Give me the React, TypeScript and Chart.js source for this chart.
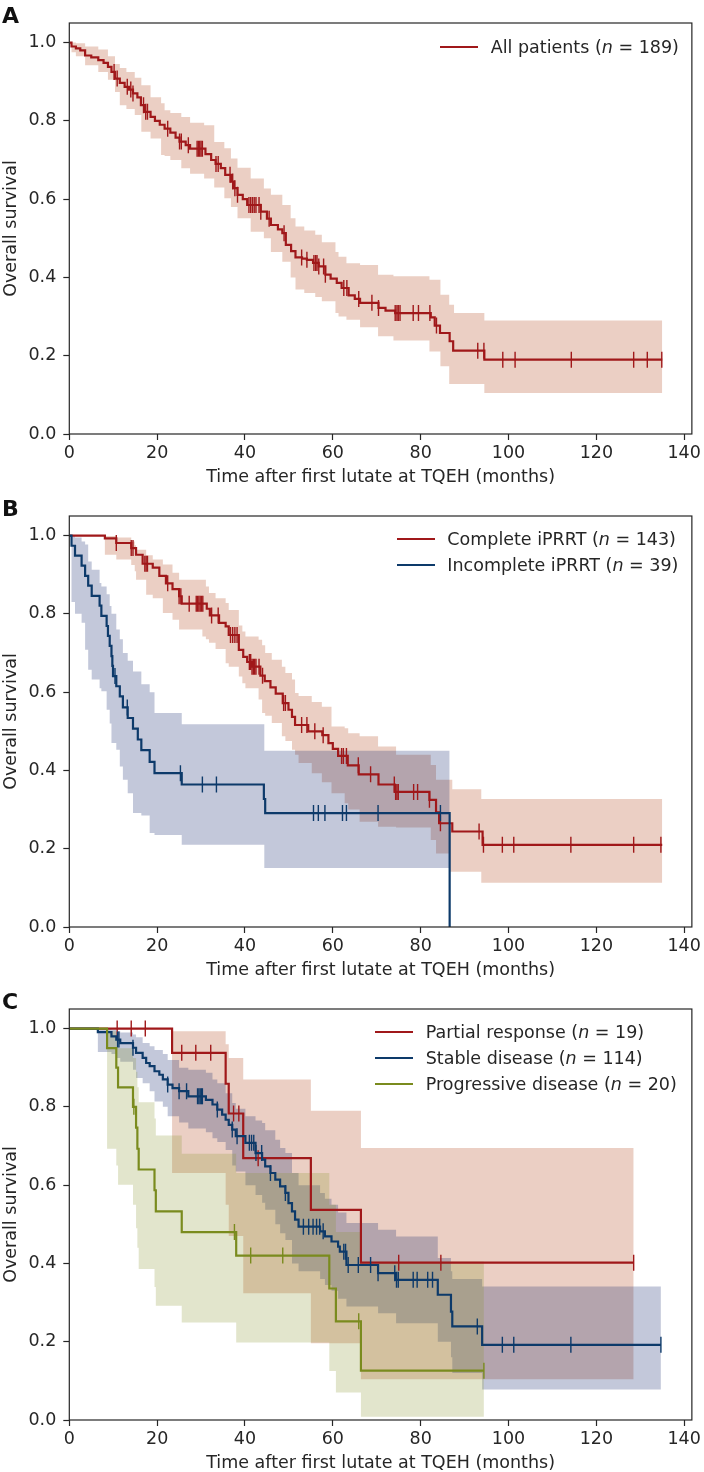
import React, { useEffect, useRef } from "react";
import { Chart, registerables } from "chart.js";

Chart.register(...registerables);

const FONT = "'DejaVu Sans', 'Liberation Sans', sans-serif";
const INK = "#262626";

// Axis ticks
const X_TICKS = [0, 20, 40, 60, 80, 100, 120, 140];
const Y_TICKS = [0, 0.2, 0.4, 0.6, 0.8, 1.0];
const X_MAX = 141.75;
const Y_MAX = 1.05;

// Series names and group sizes
const GROUP_LABELS = ["All patients", "Complete iPRRT", "Incomplete iPRRT", "Partial response", "Stable disease", "Progressive disease"];
const GROUP_SIZES = [189, 143, 39, 19, 114, 20];

// ---- Panel A: all patients ----
const allTimes = [0, 0.5, 1.5, 2.5, 3.6, 5.0, 6.6, 7.8, 8.8, 9.6, 10.4, 11.5, 12.6, 13.6, 14.5, 15.5, 16.3, 17.1, 18.5, 19.5, 20.6, 21.7, 23.0, 24.2, 25.1, 26.5, 27.5, 31.0, 32.3, 33.3, 34.5, 35.5, 36.8, 37.5, 38.3, 39.5, 40.5, 43.6, 45.0, 45.9, 47.5, 48.5, 49.3, 50.5, 51.5, 53.0, 54.1, 55.5, 56.8, 58.3, 59.5, 60.9, 62.0, 63.6, 65.0, 66.2, 70.4, 72.0, 74.2, 82.3, 83.2, 84.4, 86.6, 87.4, 94.5, 135];
const allSurv = [1, 0.99, 0.985, 0.98, 0.967, 0.962, 0.955, 0.948, 0.938, 0.925, 0.908, 0.897, 0.887, 0.88, 0.87, 0.86, 0.84, 0.823, 0.81, 0.8, 0.79, 0.78, 0.77, 0.757, 0.747, 0.738, 0.729, 0.715, 0.7, 0.69, 0.679, 0.662, 0.645, 0.628, 0.611, 0.6, 0.585, 0.568, 0.55, 0.534, 0.523, 0.513, 0.483, 0.467, 0.451, 0.448, 0.445, 0.437, 0.428, 0.407, 0.397, 0.386, 0.373, 0.354, 0.345, 0.335, 0.322, 0.315, 0.309, 0.298, 0.277, 0.258, 0.237, 0.213, 0.19, 0.19];
const allCensored = [10.2, 10.9, 13.2, 14.0, 14.5, 16.9, 17.4, 17.8, 22.4, 25.1, 25.5, 27.1, 29.1, 29.4, 29.7, 30.0, 30.3, 33.4, 33.9, 36.6, 37.2, 37.7, 38.3, 40.9, 41.3, 41.7, 42.1, 42.5, 43.2, 43.6, 45.5, 48.9, 52.9, 54.1, 55.7, 56.1, 56.4, 56.8, 57.9, 58.3, 62.5, 63.2, 65.9, 68.9, 70.4, 74.2, 74.6, 74.9, 75.3, 78.3, 79.5, 82.1, 83.6, 93.0, 94.4, 98.7, 101.5, 114.3, 128.5, 131.6, 134.9];
const allCiTimes = [0, 0.5, 1.5, 3.6, 6.6, 8.8, 10.4, 11.5, 13, 14.9, 16.4, 18.5, 20.9, 21.7, 23, 25.5, 27.5, 30.7, 33, 35.3, 36.8, 38.3, 41.3, 44.3, 45.9, 48.5, 50.4, 51.5, 53.5, 56, 57.5, 60.6, 61.3, 63.1, 66.2, 70.3, 73.8, 82, 84.5, 86.5, 87.6, 94.5, 135];
const allCiLower = [1, 0.975, 0.965, 0.942, 0.925, 0.905, 0.874, 0.84, 0.83, 0.815, 0.772, 0.755, 0.713, 0.71, 0.7, 0.679, 0.665, 0.653, 0.63, 0.602, 0.58, 0.551, 0.517, 0.5, 0.465, 0.44, 0.4, 0.369, 0.36, 0.35, 0.339, 0.309, 0.3, 0.292, 0.273, 0.25, 0.239, 0.211, 0.173, 0.128, 0.128, 0.105, 0.105];
const allCiUpper = [1, 1, 0.998, 0.99, 0.982, 0.965, 0.945, 0.935, 0.925, 0.91, 0.891, 0.86, 0.845, 0.827, 0.82, 0.81, 0.795, 0.789, 0.746, 0.73, 0.704, 0.68, 0.653, 0.627, 0.611, 0.585, 0.551, 0.53, 0.52, 0.509, 0.49, 0.465, 0.453, 0.436, 0.432, 0.407, 0.403, 0.394, 0.356, 0.33, 0.309, 0.29, 0.29];

// ---- Panel B: complete iPRRT ----
const compTimes = [0, 8.1, 10.7, 14.1, 15.2, 16.7, 19.0, 20.5, 22.0, 23.5, 25.0, 25.6, 31.3, 32.0, 34.1, 35.6, 36.3, 38.6, 39.6, 40.5, 41.6, 43.5, 44.5, 45.8, 47.0, 48.6, 49.9, 50.7, 51.4, 54.4, 57.6, 59.0, 60.0, 61.2, 63.4, 65.9, 70.4, 74.1, 82.0, 83.5, 84.2, 87.2, 94.1, 135];
const compSurv = [1, 0.993, 0.981, 0.968, 0.951, 0.928, 0.918, 0.897, 0.878, 0.863, 0.845, 0.826, 0.813, 0.796, 0.777, 0.768, 0.746, 0.708, 0.69, 0.677, 0.665, 0.642, 0.628, 0.612, 0.596, 0.572, 0.555, 0.537, 0.516, 0.5, 0.49, 0.47, 0.455, 0.437, 0.413, 0.39, 0.364, 0.345, 0.325, 0.293, 0.265, 0.244, 0.21, 0.21];
const compCensored = [10.7, 14.1, 14.5, 17.2, 17.5, 17.8, 22.4, 25.0, 25.4, 27.3, 28.9, 29.2, 29.5, 29.8, 30.1, 30.4, 32.4, 33.9, 36.7, 37.2, 37.7, 38.2, 41.0, 41.3, 41.6, 41.9, 42.2, 42.5, 43.2, 44.0, 48.8, 49.2, 52.9, 54.1, 55.9, 57.8, 62.0, 62.4, 63.1, 65.8, 68.6, 74.0, 74.3, 74.6, 74.9, 78.4, 79.3, 82.0, 84.5, 93.3, 94.3, 98.6, 101.2, 114.2, 128.5, 134.7];
const compCiTimes = [0, 8.1, 10.7, 14.1, 14.9, 15.2, 17.5, 19, 21.3, 23.5, 25, 30.3, 31.1, 31.8, 33.3, 35.6, 36.3, 38.6, 39.4, 40.1, 43.1, 43.9, 44.6, 46.1, 48.4, 49.2, 50.7, 51.4, 52.2, 55.2, 57.5, 59.7, 62.7, 63.5, 66.1, 70.3, 74.4, 82.3, 83.5, 86.5, 87.2, 93.8, 135];
const compCiLower = [1, 0.951, 0.939, 0.925, 0.909, 0.887, 0.849, 0.84, 0.802, 0.785, 0.76, 0.742, 0.735, 0.726, 0.71, 0.674, 0.665, 0.64, 0.623, 0.61, 0.581, 0.547, 0.54, 0.521, 0.487, 0.475, 0.453, 0.44, 0.419, 0.393, 0.37, 0.342, 0.316, 0.3, 0.269, 0.256, 0.254, 0.222, 0.188, 0.141, 0.141, 0.113, 0.113];
const compCiUpper = [1, 0.999, 0.995, 0.985, 0.975, 0.964, 0.95, 0.939, 0.926, 0.905, 0.887, 0.887, 0.87, 0.853, 0.84, 0.828, 0.81, 0.77, 0.755, 0.742, 0.734, 0.72, 0.7, 0.683, 0.665, 0.649, 0.632, 0.598, 0.59, 0.575, 0.563, 0.512, 0.508, 0.495, 0.487, 0.461, 0.44, 0.414, 0.376, 0.376, 0.352, 0.327, 0.327];

// ---- Panel B: incomplete iPRRT ----
const incTimes = [0, 0.5, 1.3, 2.8, 3.6, 4.3, 5.1, 6.9, 7.3, 8.5, 8.8, 9.2, 9.6, 9.8, 9.95, 10.7, 11.5, 12.2, 13.3, 14.5, 15.6, 16.4, 18.3, 19.4, 25.6, 44.3, 44.6, 86.6];
const incSurv = [1, 0.974, 0.949, 0.923, 0.897, 0.872, 0.846, 0.821, 0.795, 0.769, 0.744, 0.718, 0.692, 0.667, 0.641, 0.615, 0.589, 0.561, 0.534, 0.507, 0.479, 0.452, 0.422, 0.393, 0.364, 0.327, 0.291, 0];
const incCensored = [10.4, 13.2, 25.3, 30.3, 33.5, 55.6, 56.7, 58.2, 62.2, 63.1, 70.3, 84.5];
const incCiTimes = [0, 0.5, 1.3, 2.8, 3.6, 4.3, 5.1, 6.9, 7.3, 8.5, 9.2, 9.6, 10.7, 11.5, 12.2, 13.3, 14.5, 16.4, 18.3, 19.4, 25.6, 44.4, 86.6];
const incCiLower = [1, 0.83, 0.8, 0.777, 0.708, 0.657, 0.632, 0.61, 0.602, 0.555, 0.52, 0.47, 0.453, 0.41, 0.376, 0.342, 0.291, 0.285, 0.24, 0.235, 0.21, 0.151, 0.151];
const incCiUpper = [1, 1, 0.995, 0.985, 0.977, 0.934, 0.913, 0.879, 0.87, 0.85, 0.82, 0.8, 0.76, 0.735, 0.7, 0.68, 0.653, 0.62, 0.6, 0.547, 0.518, 0.45, 0.45];

// ---- Panel C: partial response ----
const prTimes = [0, 23.4, 35.6, 36.3, 39.6, 55.0, 66.4, 128.5];
const prSurv = [1, 0.938, 0.859, 0.783, 0.669, 0.537, 0.402, 0.402];
const prCensored = [10.9, 14.1, 17.3, 25.6, 28.8, 32.2, 37.4, 38.6, 43.0, 75.0, 84.6, 128.5];
const prCiTimes = [0, 23.4, 35.6, 36.3, 39.6, 55.0, 66.4, 128.5];
const prCiLower = [1, 0.631, 0.55, 0.47, 0.324, 0.196, 0.104, 0.104];
const prCiUpper = [1, 0.993, 0.96, 0.925, 0.87, 0.79, 0.695, 0.695];

// ---- Panel C: stable disease ----
const sdTimes = [0, 6.5, 9.6, 10.7, 11.6, 14.5, 15.2, 16.7, 17.5, 18.3, 19.4, 20.5, 21.3, 22.4, 23.5, 25.0, 27.1, 31.1, 32.6, 33.7, 34.8, 35.6, 36.3, 37.1, 37.9, 40.1, 42.4, 43.9, 44.6, 45.8, 46.9, 48.0, 49.2, 49.9, 50.7, 51.4, 52.2, 57.1, 58.2, 59.7, 61.2, 61.6, 63.1, 70.3, 74.4, 83.9, 86.9, 87.2, 94.0, 134.7];
const sdSurv = [1, 0.991, 0.98, 0.972, 0.963, 0.951, 0.938, 0.925, 0.912, 0.904, 0.891, 0.882, 0.87, 0.857, 0.848, 0.84, 0.827, 0.818, 0.806, 0.793, 0.78, 0.767, 0.754, 0.742, 0.725, 0.708, 0.682, 0.665, 0.648, 0.631, 0.614, 0.597, 0.58, 0.554, 0.533, 0.512, 0.494, 0.482, 0.469, 0.456, 0.443, 0.43, 0.396, 0.375, 0.358, 0.32, 0.277, 0.239, 0.192, 0.192];
const sdCensored = [11.0, 11.3, 14.5, 22.4, 25.0, 26.7, 29.2, 29.5, 29.8, 30.1, 30.3, 33.7, 37.1, 38.2, 41.0, 41.5, 42.0, 42.5, 43.8, 45.8, 49.2, 53.3, 54.5, 55.5, 56.3, 57.0, 57.8, 62.5, 62.9, 63.5, 65.8, 68.6, 70.3, 74.1, 74.5, 74.9, 78.3, 79.2, 81.6, 82.7, 92.9, 98.6, 101.2, 114.2, 134.7];
const sdCiTimes = [0, 6.5, 9.6, 10.7, 11.6, 14.5, 15.2, 16.7, 18.3, 19.4, 21.3, 22.4, 25.0, 27.1, 31.1, 32.6, 33.7, 35.6, 37.1, 37.9, 40.1, 42.4, 43.9, 44.6, 46.9, 48.0, 49.2, 50.7, 52.2, 57.1, 58.2, 59.7, 61.2, 63.1, 70.3, 74.4, 83.9, 86.9, 87.2, 94.0, 134.7];
const sdCiLower = [1, 0.94, 0.935, 0.925, 0.915, 0.895, 0.874, 0.86, 0.84, 0.814, 0.8, 0.776, 0.76, 0.745, 0.735, 0.72, 0.71, 0.69, 0.65, 0.635, 0.6, 0.575, 0.555, 0.537, 0.5, 0.477, 0.46, 0.4, 0.38, 0.36, 0.345, 0.33, 0.31, 0.29, 0.273, 0.247, 0.2, 0.16, 0.12, 0.078, 0.078];
const sdCiUpper = [1, 0.999, 0.997, 0.993, 0.99, 0.985, 0.978, 0.963, 0.955, 0.945, 0.935, 0.92, 0.9, 0.895, 0.887, 0.87, 0.86, 0.835, 0.81, 0.795, 0.776, 0.765, 0.759, 0.74, 0.716, 0.695, 0.682, 0.631, 0.6, 0.58, 0.565, 0.55, 0.53, 0.503, 0.486, 0.469, 0.414, 0.38, 0.36, 0.341, 0.341];

// ---- Panel C: progressive disease ----
const pdTimes = [0, 8.6, 10.7, 11.1, 14.5, 15.2, 15.5, 15.8, 19.4, 19.7, 25.6, 38.0, 59.2, 60.7, 66.4, 94.4];
const pdSurv = [1, 0.95, 0.9, 0.85, 0.8, 0.747, 0.693, 0.64, 0.587, 0.533, 0.48, 0.42, 0.336, 0.252, 0.126, 0.126];
const pdCensored = [14.7, 37.6, 41.3, 48.6, 65.9, 94.4];
const pdCiTimes = [0, 8.6, 10.7, 11.1, 14.5, 15.2, 15.5, 15.8, 19.4, 19.7, 25.6, 38.0, 59.2, 60.7, 66.4, 94.4];
const pdCiLower = [1, 0.693, 0.65, 0.601, 0.55, 0.49, 0.44, 0.386, 0.34, 0.292, 0.249, 0.198, 0.125, 0.07, 0.008, 0.008];
const pdCiUpper = [1, 0.993, 0.975, 0.95, 0.925, 0.89, 0.85, 0.812, 0.77, 0.727, 0.68, 0.631, 0.55, 0.48, 0.405, 0.405];

// Palette
const RED = "#a0181a";
const BLUE = "#0d3a6a";
const GREEN = "#7a8b1e";
const RED_BAND = "rgba(175, 63, 19, 0.25)";
const BLUE_BAND = "rgba(15, 35, 107, 0.25)";
const GREEN_BAND = "rgba(139, 151, 51, 0.25)";

type Series = {
  group: number;
  color: string;
  band: string;
  times: number[];
  surv: number[];
  censored: number[];
  ciTimes: number[];
  ciLower: number[];
  ciUpper: number[];
};

const allSeries: Series = { group: 0, color: RED, band: RED_BAND, times: allTimes, surv: allSurv, censored: allCensored, ciTimes: allCiTimes, ciLower: allCiLower, ciUpper: allCiUpper };
const compSeries: Series = { group: 1, color: RED, band: RED_BAND, times: compTimes, surv: compSurv, censored: compCensored, ciTimes: compCiTimes, ciLower: compCiLower, ciUpper: compCiUpper };
const incSeries: Series = { group: 2, color: BLUE, band: BLUE_BAND, times: incTimes, surv: incSurv, censored: incCensored, ciTimes: incCiTimes, ciLower: incCiLower, ciUpper: incCiUpper };
const prSeries: Series = { group: 3, color: RED, band: RED_BAND, times: prTimes, surv: prSurv, censored: prCensored, ciTimes: prCiTimes, ciLower: prCiLower, ciUpper: prCiUpper };
const sdSeries: Series = { group: 4, color: BLUE, band: BLUE_BAND, times: sdTimes, surv: sdSurv, censored: sdCensored, ciTimes: sdCiTimes, ciLower: sdCiLower, ciUpper: sdCiUpper };
const pdSeries: Series = { group: 5, color: GREEN, band: GREEN_BAND, times: pdTimes, surv: pdSurv, censored: pdCensored, ciTimes: pdCiTimes, ciLower: pdCiLower, ciUpper: pdCiUpper };

// Kaplan-Meier step value at time t
function survivalAt(times: number[], surv: number[], t: number): number {
  let s = surv[0];
  for (let i = 0; i < times.length; i++) {
    if (times[i] <= t) s = surv[i];
    else break;
  }
  return s;
}

// Draws the full axes box (all four spines)
const framePlugin = {
  id: "frame",
  afterDatasetsDraw(chart: any) {
    const { ctx, chartArea: a } = chart;
    ctx.save();
    ctx.strokeStyle = INK;
    ctx.lineWidth = 1.2;
    ctx.strokeRect(a.left, a.top, a.right - a.left, a.bottom - a.top);
    ctx.restore();
  },
};

const CANVAS_W = 704;
const CANVAS_H = 486;

function KMChart({ series }: { series: Series[] }) {
  const ref = useRef<HTMLCanvasElement | null>(null);

  useEffect(() => {
    const canvas = ref.current;
    if (!canvas) return;
    const datasets: any[] = [];
    series.forEach((s, i) => {
      datasets.push({
        label: GROUP_LABELS[s.group] + " lower",
        data: s.ciTimes.map((t, k) => ({ x: t, y: s.ciLower[k] })),
        borderColor: "rgba(0,0,0,0)",
        borderWidth: 0,
        pointRadius: 0,
        stepped: "before",
        fill: false,
        order: 100 - i,
      });
      datasets.push({
        label: GROUP_LABELS[s.group] + " upper",
        data: s.ciTimes.map((t, k) => ({ x: t, y: s.ciUpper[k] })),
        borderColor: "rgba(0,0,0,0)",
        borderWidth: 0,
        pointRadius: 0,
        stepped: "before",
        fill: "-1",
        backgroundColor: s.band,
        order: 100 - i,
      });
    });
    series.forEach((s, i) => {
      datasets.push({
        label: GROUP_LABELS[s.group],
        data: s.times.map((t, k) => ({ x: t, y: s.surv[k] })),
        borderColor: s.color,
        borderWidth: 2.2,
        pointRadius: 0,
        stepped: "before",
        fill: false,
        order: 50 - 2 * i,
      });
      datasets.push({
        label: GROUP_LABELS[s.group] + " censored",
        data: s.censored.map((t) => ({ x: t, y: survivalAt(s.times, s.surv, t) })),
        showLine: false,
        pointStyle: "line",
        pointRotation: 90,
        pointRadius: 8,
        pointBorderWidth: 1.4,
        pointBorderColor: s.color,
        pointBackgroundColor: s.color,
        borderColor: s.color,
        order: 49 - 2 * i,
      });
    });

    const tickFont = { family: FONT, size: 17.5 };
    const chart = new Chart(canvas, {
      type: "line",
      data: { datasets },
      options: {
        responsive: false,
        maintainAspectRatio: false,
        animation: false,
        devicePixelRatio: 1,
        events: [],
        layout: { padding: { left: 0, right: 9, top: 23, bottom: 0 } },
        plugins: { legend: { display: false }, tooltip: { enabled: false } },
        scales: {
          x: {
            type: "linear",
            position: "bottom",
            min: 0,
            max: X_MAX,
            bounds: "data",
            afterFit: (scale: any) => {
              scale.height = 52;
            },
            afterBuildTicks: (scale: any) => {
              scale.ticks = X_TICKS.map((v) => ({ value: v }));
            },
            ticks: {
              font: tickFont,
              color: INK,
              padding: 3,
              maxRotation: 0,
              autoSkip: false,
              callback: (v: any) => String(v),
            },
            grid: { display: true, drawOnChartArea: false, drawTicks: true, tickLength: 6, tickColor: INK, tickWidth: 1.2, color: INK },
            border: { display: false },
            title: {
              display: true,
              text: "Time after first lutate at TQEH (months)",
              color: INK,
              font: { family: FONT, size: 17.5, lineHeight: 1 },
              padding: { top: 0, bottom: 0 },
            },
          },
          y: {
            type: "linear",
            min: 0,
            max: Y_MAX,
            bounds: "data",
            afterFit: (scale: any) => {
              scale.width = 69.3;
            },
            afterBuildTicks: (scale: any) => {
              scale.ticks = Y_TICKS.map((v) => ({ value: v }));
            },
            ticks: {
              font: tickFont,
              color: INK,
              padding: 7,
              autoSkip: false,
              callback: (v: any) => Number(v).toFixed(1),
            },
            grid: { display: true, drawOnChartArea: false, drawTicks: true, tickLength: 6, tickColor: INK, tickWidth: 1.2, color: INK },
            border: { display: false },
            title: {
              display: true,
              text: "Overall survival",
              color: INK,
              font: { family: FONT, size: 17.5, lineHeight: 1 },
              padding: { top: 3, bottom: 0 },
            },
          },
        },
      } as any,
      plugins: [framePlugin],
    });
    return () => chart.destroy();
  }, [series]);

  return <canvas ref={ref} width={CANVAS_W} height={CANVAS_H} style={{ width: CANVAS_W, height: CANVAS_H, display: "block" }} />;
}

type PanelSpec = {
  letter: string;
  top: number;
  series: Series[];
  swatchLeft: number;
  textLeft: number;
  rows: number[];
};

const PANELS: PanelSpec[] = [
  { letter: "A", top: 0, series: [allSeries], swatchLeft: 440, textLeft: 490.7, rows: [46.7] },
  { letter: "B", top: 493, series: [compSeries, incSeries], swatchLeft: 397.3, textLeft: 447.3, rows: [46.3, 72] },
  { letter: "C", top: 986, series: [prSeries, sdSeries, pdSeries], swatchLeft: 375, textLeft: 425.7, rows: [46.3, 72, 97.7] },
];

function Panel({ spec }: { spec: PanelSpec }) {
  return (
    <div style={{ position: "absolute", left: 0, top: spec.top, width: CANVAS_W, height: CANVAS_H }}>
      <KMChart series={spec.series} />
      <div
        style={{
          position: "absolute",
          left: 2,
          top: 4.7,
          fontFamily: FONT,
          fontWeight: "bold",
          fontSize: 22,
          lineHeight: "22px",
          color: "#111",
        }}
      >
        {spec.letter}
      </div>
      {spec.series.map((s, i) => (
        <React.Fragment key={i}>
          <div
            style={{
              position: "absolute",
              left: spec.swatchLeft,
              top: spec.rows[i] - 1.1,
              width: 37.5,
              height: 2.2,
              background: s.color,
            }}
          />
          <div
            style={{
              position: "absolute",
              left: spec.textLeft,
              top: spec.rows[i] - 11,
              fontFamily: FONT,
              fontSize: 17.5,
              lineHeight: "22px",
              whiteSpace: "nowrap",
              color: INK,
            }}
          >
            {GROUP_LABELS[s.group]} (<i>n</i> = {GROUP_SIZES[s.group]})
          </div>
        </React.Fragment>
      ))}
    </div>
  );
}

export default function App() {
  return (
    <div style={{ position: "absolute", left: 0, top: 0, width: 704, height: 1472, background: "#fff", overflow: "hidden" }}>
      {PANELS.map((p) => (
        <Panel key={p.letter} spec={p} />
      ))}
    </div>
  );
}
